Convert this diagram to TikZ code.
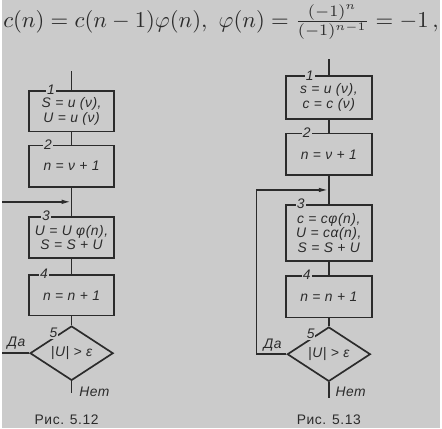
\documentclass[tikz,border=0pt]{standalone}
\usepackage{amsmath}
\usepackage{graphicx}
\usepackage{fontspec}
\usepackage{tikz}
\usetikzlibrary{positioning,arrows.meta,shapes.geometric,calc}
\newfontfamily\drawfont[LetterSpace=4]{Liberation Sans}
\newcommand\blkfont{\drawfont\itshape\fontsize{14}{14.5}\selectfont}
\newcommand\capfont{\drawfont\fontsize{14}{16}\selectfont}
\definecolor{paper}{HTML}{CBCBCB}
\definecolor{ink}{HTML}{2B2B2B}

\begin{document}
\begin{tikzpicture}[x=1pt,y=-1pt,color=ink,line width=1.7pt,
    blk/.style={draw,rectangle,inner sep=1pt,align=center,font=\blkfont},
    cond/.style={draw,diamond,minimum width=84pt,minimum height=44pt,inner sep=0pt,font=\blkfont},
    num/.style={fill=paper,inner sep=1pt,font=\blkfont},
    lbl/.style={font=\blkfont},
    into/.style={-{Latex[length=10pt,width=4.5pt]}}]
  % paper
  \fill[paper] (0,0) rectangle (442,433);
  % formula on top
  \node (frm) at (221,22) {\resizebox{440pt}{!}{$c(n)=c(n-1)\varphi(n),\ \varphi(n)=\frac{(-1)^n}{(-1)^{n-1}}=-1\,,$}};

  % Fig. 5.12
  \coordinate (a0) at (70,72);
  \node[blk,minimum width=86pt,minimum height=41pt] (a1) at (70,112.5) {S = u (ν),\\U = u (ν)};
  \node[blk,minimum width=86pt,minimum height=42pt] (a2) at (70,168) {n = ν + 1};
  \node[blk,minimum width=86pt,minimum height=42pt] (a3) at (70,240) {U = U φ(n),\\S = S + U};
  \node[blk,minimum width=86pt,minimum height=41pt] (a4) at (70,298.5) {n = n + 1};
  \node[cond] (a5) at (70,357) {|U| > ε};
  \coordinate (ain) at (0,204);
  \coordinate (aj) at (70,204);
  \coordinate (ayes) at (0,357);
  \coordinate (ano) at (70,397);
  \draw (a0) -- (a1) -- (a2) -- (a3) -- (a4) -- (a5) -- (ano);
  \draw[into] (ain) -- (aj);
  \draw (a5.west) -- (ayes);
  \node[num] (a1n) at ($(a1.north west)+(23,0)$) {1};
  \node[num] (a2n) at ($(a2.north west)+(20,0)$) {2};
  \node[num] (a3n) at ($(a3.north west)+(18,0)$) {3};
  \node[num] (a4n) at ($(a4.north west)+(16,0)$) {4};
  \node[num] (a5n) at ($(a5.north west)+(3,-6)$) {5};
  \node[lbl] (ada) at ($(a5.west)+(-13,-10)$) {Да};
  \node[lbl] (anet) at ($(a5.south)+(23,11)$) {Нет};
  \node[font=\capfont] (acap) at (65,424) {Рис. 5.12};

  % Fig. 5.13
  \coordinate (b0) at (330,60);
  \node[blk,minimum width=87pt,minimum height=43pt] (b1) at (330,98.5) {s = u (ν),\\c = c (ν)};
  \node[blk,minimum width=87pt,minimum height=42pt] (b2) at (330,156) {n = ν + 1};
  \node[blk,minimum width=87pt,minimum height=57pt] (b3) at (330,235.5) {c = cφ(n),\\U = cα(n),\\S = S + U};
  \node[blk,minimum width=87pt,minimum height=42pt] (b4) at (330,300) {n = n + 1};
  \node[cond] (b5) at (330,358) {|U| > ε};
  \coordinate (bk) at (257,192);
  \coordinate (bj) at (330,192);
  \coordinate (bno) at (330,402);
  \draw (b0) -- (b1) -- (b2) -- (b3) -- (b4) -- (b5) -- (bno);
  \draw[into] (b5.west) -| (bk) -- (bj);
  \node[num] (b1n) at ($(b1.north west)+(25,0)$) {1};
  \node[num] (b2n) at ($(b2.north west)+(22,0)$) {2};
  \node[num] (b3n) at ($(b3.north west)+(16,0)$) {3};
  \node[num] (b4n) at ($(b4.north west)+(22,0)$) {4};
  \node[num] (b5n) at ($(b5.north west)+(3,-6)$) {5};
  \node[lbl] (bda) at ($(b5.west)+(-14,-9)$) {Да};
  \node[lbl] (bnet) at ($(b5.south)+(22,10)$) {Нет};
  \node[font=\capfont] (bcap) at (330,424) {Рис. 5.13};
\end{tikzpicture}
\end{document}
